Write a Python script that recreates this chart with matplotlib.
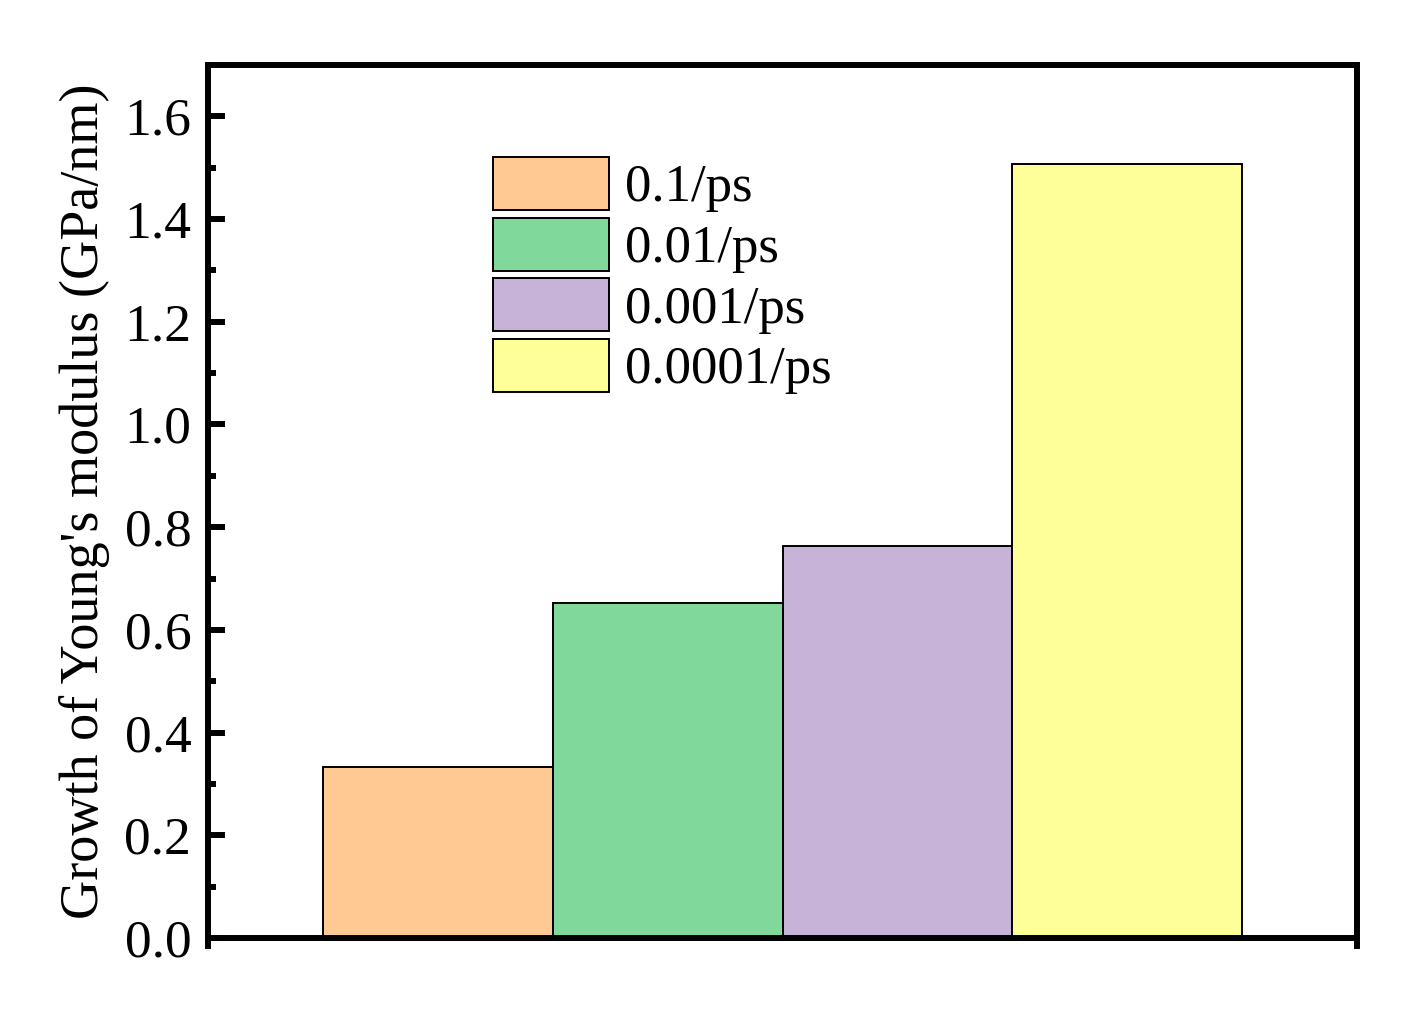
import matplotlib
matplotlib.use("Agg")
import matplotlib.pyplot as plt
from matplotlib.ticker import MultipleLocator, FixedLocator, NullFormatter

categories = ["0.1/ps", "0.01/ps", "0.001/ps", "0.0001/ps"]
values = [0.333, 0.653, 0.764, 1.507]
colors = ["#FFC994", "#80D99B", "#C8B3D8", "#FFFF99"]
ylabel = "Growth of Young's modulus (GPa/nm)"

plt.rcParams['font.family'] = ['Liberation Serif', 'DejaVu Serif']

fig = plt.figure(figsize=(14.04, 10.16), dpi=100)
ax = fig.add_axes([208/1404, 1-938/1016, (1357-208)/1404, (938-65)/1016])

x = list(range(1, len(values) + 1))
for xi, v, c, lab in zip(x, values, colors, categories):
    ax.bar(xi, v, width=1.0, color=c, edgecolor='black', linewidth=1.4, label=lab, zorder=2)

ax.set_xlim(0, 5)
ax.set_ylim(0, 1.7)

lw = 4.3
for s in ax.spines.values():
    s.set_linewidth(lw)
    s.set_zorder(5)
ax.spines['left'].set_bounds(-0.016, 1.7)
ax.spines['right'].set_bounds(-0.016, 1.7)

ax.yaxis.set_major_locator(MultipleLocator(0.2))
ax.yaxis.set_minor_locator(MultipleLocator(0.1))
ax.yaxis.set_major_formatter(matplotlib.ticker.FormatStrFormatter('%.1f'))
ax.xaxis.set_major_locator(FixedLocator([2.5]))
ax.xaxis.set_major_formatter(NullFormatter())
ax.tick_params(axis='y', which='major', direction='in', length=12.5, width=lw, labelsize=38.5, pad=12)
ax.tick_params(axis='y', which='minor', direction='in', length=6, width=lw)
ax.tick_params(axis='x', which='major', direction='in', length=12.5, width=lw)
ax.tick_params(right=False, top=False)

ax.set_ylabel(ylabel, fontsize=39, labelpad=10)

leg = ax.legend(loc='upper left', bbox_to_anchor=(493/1404, 1-157/1016), bbox_transform=fig.transFigure,
                frameon=False, fontsize=38, handlelength=2.2, handleheight=1.17,
                handletextpad=0.3, labelspacing=0.1, borderpad=0, borderaxespad=0)

fig.savefig("out.png", dpi=100)
